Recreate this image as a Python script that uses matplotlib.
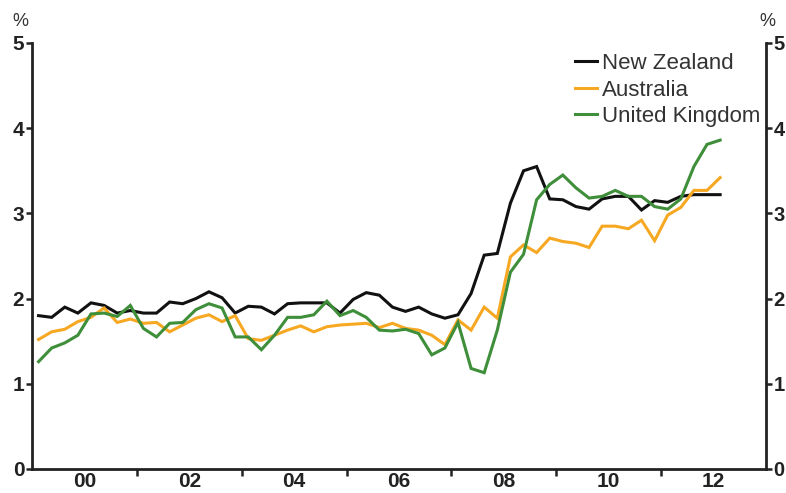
import matplotlib
matplotlib.use("Agg")
import matplotlib.pyplot as plt
import numpy as np
from matplotlib.ticker import FixedLocator, NullFormatter, FixedFormatter

plt.rcParams['font.family'] = ['Liberation Sans', 'DejaVu Sans']

start_year = 1999.125  # first quarter midpoint

new_zealand = [1.80, 1.78, 1.90, 1.83, 1.95, 1.92, 1.83, 1.86, 1.83, 1.83,
               1.96, 1.94, 2.00, 2.08, 2.01, 1.83, 1.91, 1.90, 1.82, 1.94,
               1.95, 1.95, 1.95, 1.83, 1.99, 2.07, 2.04, 1.90, 1.85, 1.90,
               1.82, 1.77, 1.81, 2.06, 2.51, 2.53, 3.12, 3.50, 3.55, 3.17,
               3.16, 3.08, 3.05, 3.17, 3.20, 3.20, 3.04, 3.15, 3.13, 3.20,
               3.22, 3.22, 3.22]
australia = [1.52, 1.61, 1.64, 1.73, 1.78, 1.89, 1.72, 1.76, 1.71, 1.72,
             1.61, 1.69, 1.77, 1.81, 1.73, 1.80, 1.53, 1.51, 1.57, 1.63,
             1.68, 1.61, 1.67, 1.69, 1.70, 1.71, 1.66, 1.71, 1.65, 1.63,
             1.57, 1.46, 1.75, 1.63, 1.90, 1.77, 2.49, 2.63, 2.54, 2.71,
             2.67, 2.65, 2.60, 2.85, 2.85, 2.82, 2.92, 2.68, 2.98, 3.07,
             3.27, 3.27, 3.42]
united_kingdom = [1.26, 1.42, 1.48, 1.57, 1.82, 1.83, 1.79, 1.92, 1.65, 1.55,
                  1.71, 1.72, 1.87, 1.94, 1.89, 1.55, 1.55, 1.40, 1.57, 1.78,
                  1.78, 1.81, 1.97, 1.80, 1.86, 1.78, 1.63, 1.62, 1.64, 1.59,
                  1.34, 1.42, 1.72, 1.18, 1.13, 1.63, 2.31, 2.52, 3.16, 3.34,
                  3.45, 3.30, 3.18, 3.20, 3.27, 3.20, 3.20, 3.08, 3.05, 3.17,
                  3.55, 3.81, 3.86]

series_names = ['New Zealand', 'Australia', 'United Kingdom']
series_colors = ['#111111', '#F7A823', '#3E8E3A']

x_label_years = [2000, 2002, 2004, 2006, 2008, 2010, 2012]
x_labels = ['00', '02', '04', '06', '08', '10', '12']
x_tick_years = [2001, 2003, 2005, 2007, 2009, 2011]
y_ticks = [0, 1, 2, 3, 4, 5]

x = start_year + 0.25 * np.arange(len(new_zealand))

fig = plt.figure(figsize=(7.86, 4.93), dpi=100)
ax = fig.add_axes([32/786, 1-469/493, (766-32)/786, (469-43)/493])

for data, name, col in zip([new_zealand, australia, united_kingdom], series_names, series_colors):
    ax.plot(x, data, color=col, lw=2.2, label=name, solid_joinstyle='miter')

ax.set_xlim(1999, 2013)
ax.set_ylim(0, 5)

spine_col = '#222222'
for s in ['left', 'right', 'bottom']:
    ax.spines[s].set_linewidth(2.0)
    ax.spines[s].set_color(spine_col)
ax.spines['top'].set_visible(False)

ax.xaxis.set_major_locator(FixedLocator(x_tick_years))
ax.xaxis.set_major_formatter(NullFormatter())
ax.xaxis.set_minor_locator(FixedLocator(x_label_years))
ax.xaxis.set_minor_formatter(FixedFormatter(x_labels))
ax.tick_params(axis='x', which='major', direction='out', length=5, width=1.8, color=spine_col)
ax.tick_params(axis='x', which='minor', length=0, pad=2, labelsize=15, labelcolor='#222222')
for lab in ax.xaxis.get_minorticklabels():
    lab.set_fontweight('bold')

ax.set_yticks(y_ticks)
ax.set_yticklabels([str(v) for v in y_ticks])
ax.tick_params(axis='y', which='major', direction='out', length=4, width=1.8, color=spine_col,
               left=True, right=True, labelleft=True, labelright=True, labelsize=15,
               labelcolor='#222222', pad=1.5)
for t in ax.yaxis.get_major_ticks():
    t.label1.set_fontweight('bold')
    t.label2.set_fontweight('bold')
    t.label2.set_fontsize(14.5)

fig.text(20/786, 1-22/493, '%', ha='center', va='center', fontsize=13, color='#333333')
fig.text(767/786, 1-22/493, '%', ha='center', va='center', fontsize=13, color='#333333')

leg = ax.legend(loc='upper left', bbox_to_anchor=(575/786, 1-53/493), bbox_transform=fig.transFigure,
                frameon=False, fontsize=16, handlelength=1.0, handletextpad=0.2,
                labelspacing=0.25, borderpad=0, borderaxespad=0)
for t in leg.get_texts():
    t.set_color('#333333')

fig.savefig('out.png', dpi=100)
